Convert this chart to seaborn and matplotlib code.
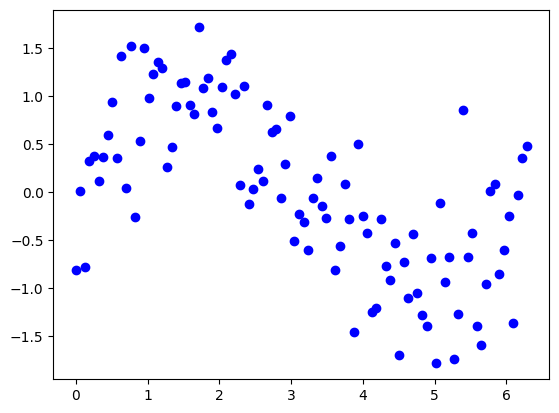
import numpy as np
import pandas as pd
import matplotlib
matplotlib.use("Agg")
import matplotlib.pyplot as plt
import seaborn as sns

# x positions (evenly spaced from 0 to about 6.28)
x_vals = [
    0.000, 0.063, 0.127, 0.190, 0.254, 0.317, 0.381, 0.444, 0.508, 0.571,
    0.635, 0.698, 0.762, 0.825, 0.889, 0.952, 1.016, 1.079, 1.142, 1.206,
    1.269, 1.333, 1.396, 1.460, 1.523, 1.587, 1.650, 1.714, 1.777, 1.841,
    1.904, 1.967, 2.031, 2.094, 2.158, 2.221, 2.285, 2.348, 2.412, 2.475,
    2.539, 2.602, 2.666, 2.729, 2.792, 2.856, 2.919, 2.983, 3.046, 3.110,
    3.173, 3.237, 3.300, 3.364, 3.427, 3.491, 3.554, 3.617, 3.681, 3.744,
    3.808, 3.871, 3.935, 3.998, 4.062, 4.125, 4.189, 4.252, 4.316, 4.379,
    4.442, 4.506, 4.569, 4.633, 4.696, 4.760, 4.823, 4.887, 4.950, 5.014,
    5.077, 5.141, 5.204, 5.267, 5.331, 5.394, 5.458, 5.521, 5.585, 5.648,
    5.712, 5.775, 5.839, 5.902, 5.966, 6.029, 6.093, 6.156, 6.220, 6.283,
]

y_vals = [
    -0.812, 0.015, -0.777, 0.327, 0.379, 0.119, 0.368, 0.597, 0.941, 0.358,
    1.419, 0.046, 1.523, -0.263, 0.535, 1.502, 0.982, 1.235, 1.357, 1.294,
    0.267, 0.472, 0.899, 1.134, 1.149, 0.909, 0.816, 1.721, 1.086, 1.190,
    0.837, 0.673, 1.097, 1.378, 1.440, 1.024, 0.080, 1.107, -0.121, 0.035,
    0.243, 0.119, 0.909, 0.624, 0.663, -0.058, 0.296, 0.795, -0.506, -0.225,
    -0.308, -0.599, -0.058, 0.150, -0.142, -0.266, 0.379, -0.815, -0.558, 0.087,
    -0.277, -1.453, 0.504, -0.253, -0.422, -1.245, -1.203, -0.277, -0.766, -0.912,
    -0.527, -1.699, -0.725, -1.106, -0.433, -1.047, -1.276, -1.398, -0.683, -1.775,
    -0.110, -0.933, -0.673, -1.734, -1.265, 0.857, -0.673, -0.422, -1.390, -1.588,
    -0.953, 0.015, 0.087, -0.849, -0.603, -0.246, -1.359, -0.027, 0.358, 0.483,
]

df = pd.DataFrame({"x": x_vals, "y": y_vals})

fig = plt.figure(figsize=(5.59, 4.13), dpi=100)
ax = fig.add_axes([53.3 / 559, (413 - 379.3) / 413, 496 / 559, 369 / 413])

# plain blue dots with a 1pt edge in the same colour, like plt.plot(..., "bo")
sns.scatterplot(data=df, x="x", y="y", color="blue", edgecolor="blue",
                s=36, linewidth=1, ax=ax)
ax.set_xlabel("")
ax.set_ylabel("")

fig.savefig("out.png", dpi=100)
plt.close(fig)
